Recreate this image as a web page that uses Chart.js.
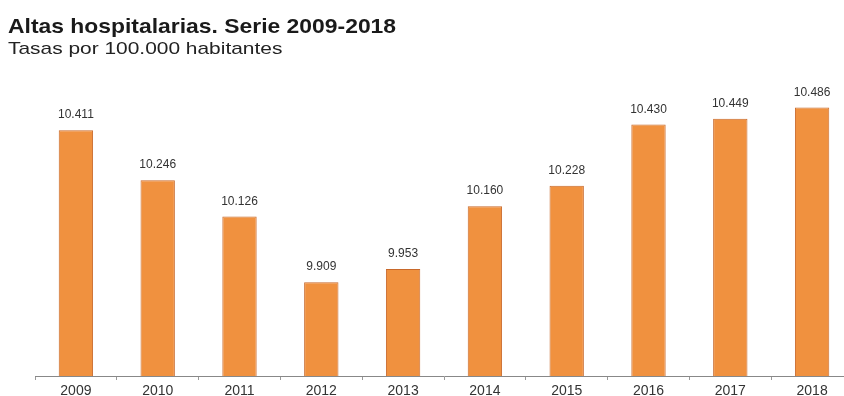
<!DOCTYPE html>
<html>
<head>
<meta charset="utf-8">
<script src="https://cdn.jsdelivr.net/npm/chart.js@4"></script>
<style>
  html, body { margin: 0; padding: 0; background: #fff; overflow: hidden; width: 844px; height: 396px; }
  #wrap { position: relative; width: 860px; height: 396px; }
  #title { position: absolute; left: 8px; top: 14px; font: bold 21px "Liberation Sans", Arial, sans-serif; color: #1a1a1a;
           transform: scaleX(1.09); transform-origin: left top; white-space: nowrap; }
  #sub { position: absolute; left: 8px; top: 39px; font: 17px "Liberation Sans", Arial, sans-serif; color: #222;
         transform: scaleX(1.23); transform-origin: left top; white-space: nowrap; }
</style>
</head>
<body>
<div id="wrap">
  <div id="title">Altas hospitalarias. Serie 2009-2018</div>
  <div id="sub">Tasas por 100.000 habitantes</div>
  <canvas id="myChart" width="860" height="396"></canvas>
</div>
<script>
// Data
var years = ['2009', '2010', '2011', '2012', '2013', '2014', '2015', '2016', '2017', '2018'];
var rates = [10.411, 10.246, 10.126, 9.909, 9.953, 10.160, 10.228, 10.430, 10.449, 10.486];
var rateLabels = ['10.411', '10.246', '10.126', '9.909', '9.953', '10.160', '10.228', '10.430', '10.449', '10.486'];

// value labels above the bars
var valueLabels = {
  id: 'valueLabels',
  afterDatasetsDraw: function(chart) {
    var ctx = chart.ctx;
    var meta = chart.getDatasetMeta(0);
    ctx.save();
    ctx.font = '12px "Liberation Sans", Arial, sans-serif';
    ctx.fillStyle = '#333';
    ctx.textAlign = 'center';
    ctx.textBaseline = 'alphabetic';
    meta.data.forEach(function(bar, i) {
      ctx.fillText(rateLabels[i], bar.x, bar.y - 12);
    });
    ctx.restore();
  }
};

var ctx = document.getElementById('myChart').getContext('2d');
var chart = new Chart(ctx, {
  type: 'bar',
  data: {
    labels: years,
    datasets: [{
      data: rates,
      backgroundColor: '#F0913F',
      borderColor: '#C8692B',
      borderWidth: 1,
      categoryPercentage: 1,
      barPercentage: 0.42
    }]
  },
  options: {
    responsive: false,
    animation: false,
    layout: { padding: { top: 73, left: 35, right: 7, bottom: -6 } },
    plugins: {
      legend: { display: false },
      tooltip: { enabled: false }
    },
    scales: {
      y: {
        display: false,
        min: 9.6,
        max: 10.6
      },
      x: {
        grid: {
          drawOnChartArea: false,
          drawTicks: true,
          tickLength: 4,
          color: '#999'
        },
        border: { color: '#888', width: 1 },
        ticks: {
          color: '#333',
          padding: 4,
          font: { family: '"Liberation Sans", Arial, sans-serif', size: 14, lineHeight: 1 }
        }
      }
    }
  },
  plugins: [valueLabels]
});
</script>
</body>
</html>
